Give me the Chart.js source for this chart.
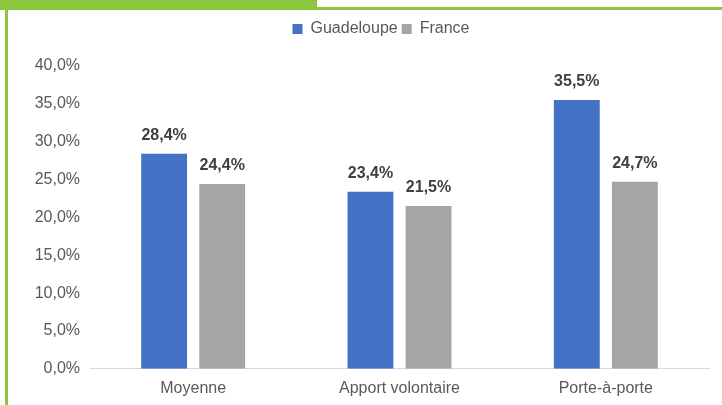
<!DOCTYPE html>
<html>
<head>
<meta charset="utf-8">
<script src="https://cdn.jsdelivr.net/npm/chart.js@4"></script>
<style>
  html, body { margin: 0; padding: 0; background: #fff; }
  #wrap { position: relative; width: 722px; height: 405px; overflow: hidden; }
  .green { position: absolute; background: #8cc63f; }
  #topBar { left: 0; top: 0; width: 317px; height: 10px; }
  #topLine { left: 0; top: 7px; width: 722px; height: 3px; }
  #leftLine { left: 5px; top: 0; width: 3px; height: 405px; }
  #chart { position: absolute; left: 0; top: 0; }
</style>
</head>
<body>
<div id="wrap">
  <canvas id="chart" width="722" height="405"></canvas>
  <div class="green" id="topBar"></div>
  <div class="green" id="topLine"></div>
  <div class="green" id="leftLine"></div>
</div>
<script>
// ---------- DATA ----------
const categories = ['Moyenne', 'Apport volontaire', 'Porte-à-porte'];
const guadeloupe = [28.4, 23.4, 35.5];
const france = [24.4, 21.5, 24.7];

const FONT = "'Liberation Sans', Arial, sans-serif";

function pct(v, digits) {
  return v.toFixed(digits).replace('.', ',') + '%';
}

// extra room under the legend, and nudge it a bit to the right
const legendTweak = {
  id: 'legendTweak',
  beforeInit(chart) {
    const fit = chart.legend.fit;
    chart.legend.fit = function () {
      fit.bind(chart.legend)();
      this.height += 19;
    };
  },
  afterLayout(chart) {
    chart.legend.left += 10;
    chart.legend.right += 10;
  }
};

// value labels above bars
const barLabels = {
  id: 'barLabels',
  afterDatasetsDraw(chart) {
    const ctx = chart.ctx;
    ctx.save();
    ctx.font = 'bold 16px ' + FONT;
    ctx.fillStyle = '#404040';
    ctx.textAlign = 'center';
    ctx.textBaseline = 'middle';
    chart.data.datasets.forEach((ds, i) => {
      chart.getDatasetMeta(i).data.forEach((bar, j) => {
        ctx.fillText(pct(ds.data[j], 1), bar.x, bar.y - 18);
      });
    });
    ctx.restore();
  }
};

new Chart(document.getElementById('chart'), {
  type: 'bar',
  data: {
    labels: categories,
    datasets: [
      { label: 'Guadeloupe', data: guadeloupe, backgroundColor: '#4472c4' },
      { label: 'France', data: france, backgroundColor: '#a5a5a5' }
    ]
  },
  options: {
    responsive: false,
    animation: false,
    layout: { padding: { left: 33, right: 13, top: 17, bottom: 5 } },
    datasets: { bar: { categoryPercentage: 0.563, barPercentage: 0.79 } },
    plugins: {
      legend: {
        position: 'top',
        labels: {
          boxWidth: 10, boxHeight: 10, padding: 4,
          color: '#595959',
          font: { family: FONT, size: 16 }
        }
      },
      tooltip: { enabled: false }
    },
    scales: {
      x: {
        grid: { display: false },
        border: { color: '#d9d9d9', width: 1 },
        ticks: { color: '#595959', font: { family: FONT, size: 16 }, padding: 2 }
      },
      y: {
        min: 0, max: 40,
        grid: { display: false, drawTicks: false },
        border: { display: false },
        afterFit(scale) { scale.width = 57; },
        ticks: {
          stepSize: 5,
          color: '#595959',
          font: { family: FONT, size: 16 },
          padding: 10,
          callback: v => pct(v, 1)
        }
      }
    }
  },
  plugins: [legendTweak, barLabels]
});
</script>
</body>
</html>
